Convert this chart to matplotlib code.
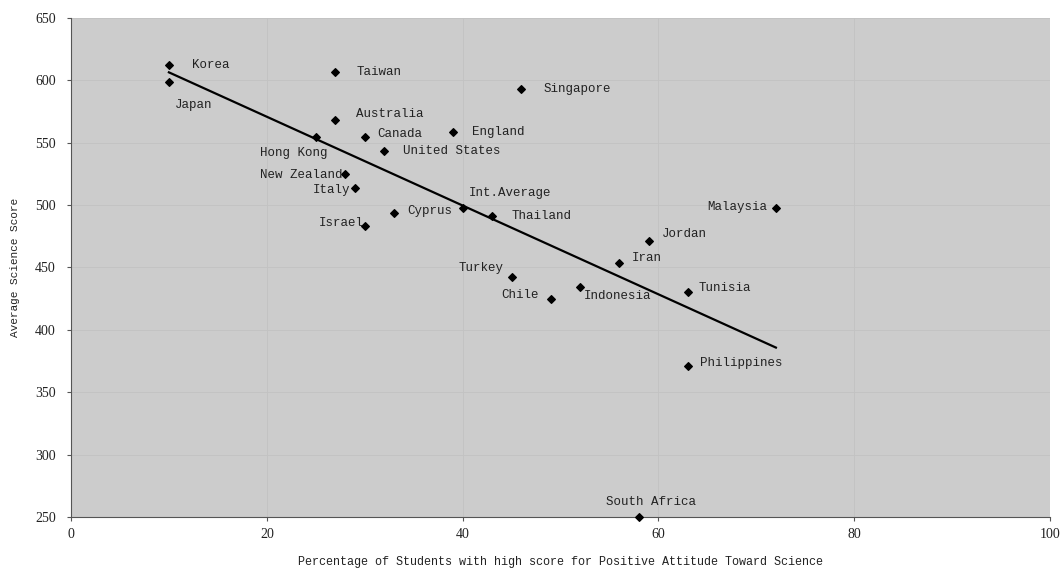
import numpy as np
import matplotlib
matplotlib.use("Agg")
import matplotlib.pyplot as plt

# values
countries = ["Korea", "Japan", "Taiwan", "Singapore", "Australia", "Hong Kong",
             "Canada", "England", "United States", "New Zealand", "Italy",
             "Cyprus", "Israel", "Int.Average", "Thailand", "Malaysia", "Jordan",
             "Iran", "Turkey", "Chile", "Indonesia", "Tunisia", "Philippines",
             "South Africa"]
attitude = [10, 10, 27, 46, 27, 25, 30, 39, 32, 28, 29, 33, 30, 40, 43, 72,
            59, 56, 45, 49, 52, 63, 63, 58]
score = [612, 599, 607, 593, 568, 555, 555, 559, 543, 525, 514, 494, 483,
         498, 491, 498, 471, 454, 442, 425, 434, 430, 371, 250]

# label placement: (dx px, dy px, ha)
label_pos = {
    "Korea": (23, 0, "left"), "Japan": (6, -23, "left"),
    "Taiwan": (21, 0, "left"), "Singapore": (22, 0, "left"),
    "Australia": (21, 6, "left"), "Hong Kong": (12, -16, "right"),
    "Canada": (13, 3, "left"), "England": (19, 0, "left"),
    "United States": (19, 0, "left"), "New Zealand": (-3, -1, "right"),
    "Italy": (-5, -2, "right"), "Cyprus": (13, 2, "left"),
    "Israel": (-1, 3, "right"), "Int.Average": (6, 15, "left"),
    "Thailand": (20, 0, "left"), "Malaysia": (-9, 1, "right"),
    "Jordan": (13, 7, "left"), "Iran": (13, 5, "left"),
    "Turkey": (-8, 9, "right"), "Chile": (-12, 4, "right"),
    "Indonesia": (4, -9, "left"), "Tunisia": (11, 4, "left"),
    "Philippines": (12, 3, "left"), "South Africa": (12, 15, "center"),
}

fig = plt.figure(figsize=(10.63, 5.68), dpi=100)
ax = fig.add_axes([0.0668, 0.0898, 0.921, 0.8785])
ax.set_facecolor("#cccccc")

ax.scatter(attitude, score, marker="D", s=15, color="black", zorder=3, clip_on=False)

# linear trend line
k, b = np.polyfit(attitude, score, 1)
xs = np.array([min(attitude), max(attitude)])
ax.plot(xs, k * xs + b, color="black", lw=1.6, zorder=2)

for name, x, y in zip(countries, attitude, score):
    dx, dy, ha = label_pos[name]
    ax.annotate(name, (x, y), xytext=(dx, dy), textcoords="offset pixels",
                ha=ha, va="center", fontsize=9, family="Liberation Mono",
                color="#222222")

ax.set_xlim(0, 100)
ax.set_ylim(250, 650)
ax.set_xticks(range(0, 101, 20))
ax.set_yticks(range(250, 651, 50))
ax.grid(True, color="#c2c2c2", lw=0.6)
ax.set_axisbelow(True)
for s in ["top", "right"]:
    ax.spines[s].set_visible(False)
for s in ["left", "bottom"]:
    ax.spines[s].set_color("#555555")
ax.tick_params(labelsize=10, length=3, color="#555555", labelcolor="#222222")
ax.tick_params(axis="x", pad=5)
ax.tick_params(axis="y", pad=8)
for lab in ax.get_xticklabels() + ax.get_yticklabels():
    lab.set_family("Liberation Serif")

ax.set_xlabel("Percentage of Students with high score for Positive Attitude Toward Science",
              fontsize=8.5, family="Liberation Mono", color="#222222", va="center")
ax.set_ylabel("Average Science Score", fontsize=8, family="Liberation Mono",
              color="#222222", va="center")
ax.xaxis.set_label_coords(0.5, -0.09)
ax.yaxis.set_label_coords(-0.057, 0.5)

fig.savefig("out.png", dpi=100)
